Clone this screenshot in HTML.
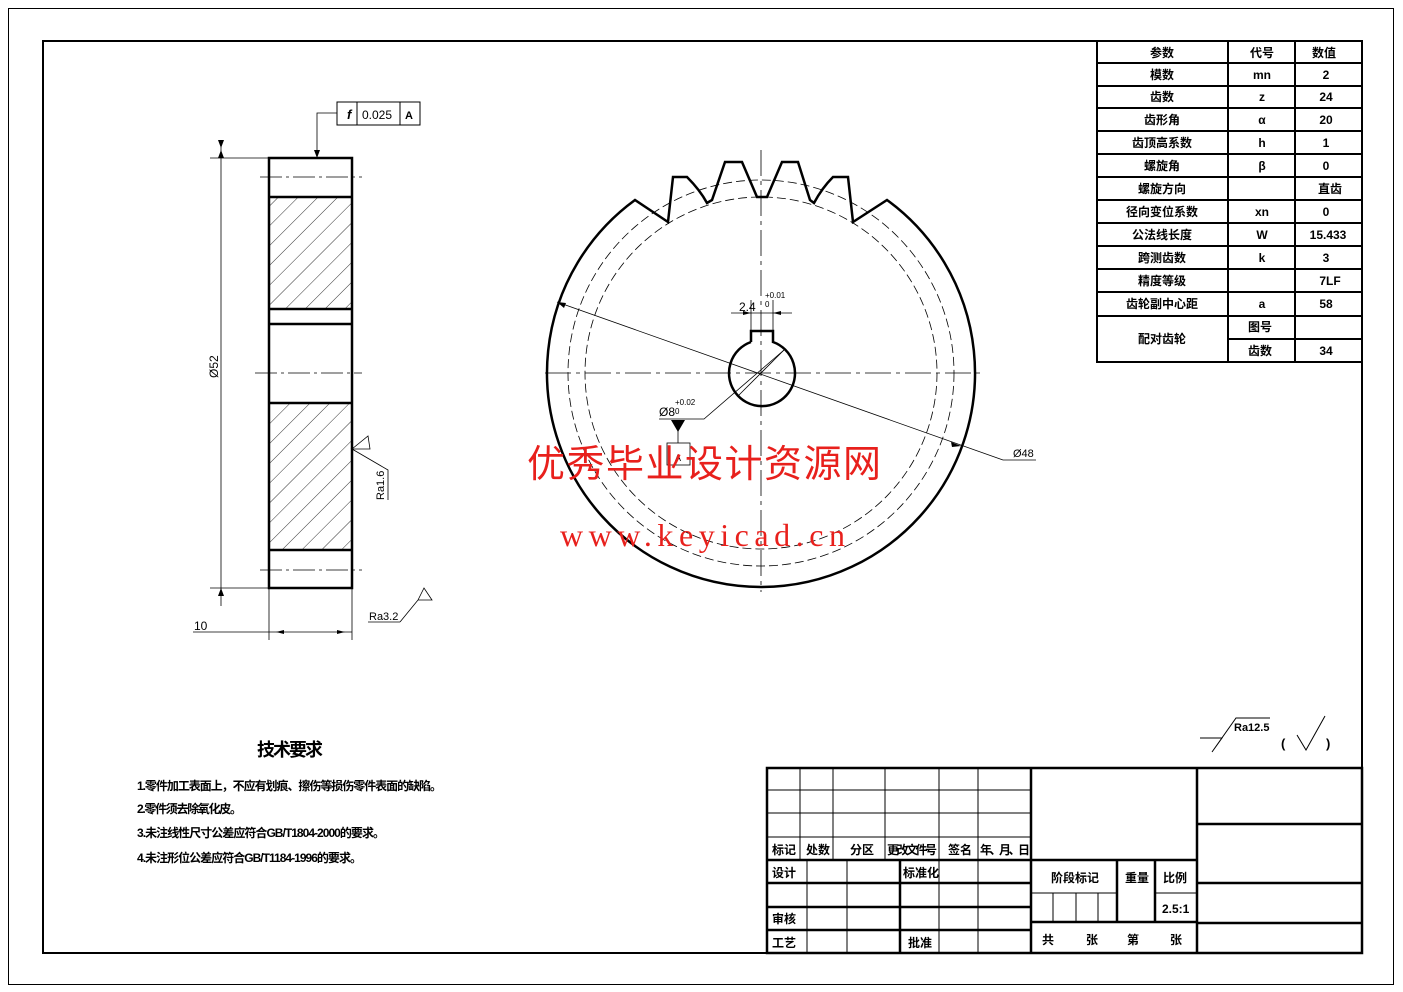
<!DOCTYPE html>
<html><head><meta charset="utf-8"><style>
html,body{margin:0;padding:0;background:#fff;}
svg{display:block;}
text{font-family:"Liberation Sans","Noto Sans CJK SC",sans-serif;fill:#000;}
.cn{font-family:"Liberation Sans","Noto Sans CJK SC",sans-serif;font-weight:bold;font-size:12px;}
</style></head><body>
<svg width="1403" height="992" viewBox="0 0 1403 992" xmlns="http://www.w3.org/2000/svg">
<defs>
<pattern id="h" patternUnits="userSpaceOnUse" width="14" height="14" patternTransform="rotate(45)">
<line x1="0" y1="0" x2="0" y2="14" stroke="#000" stroke-width="0.8"/>
</pattern>
</defs>
<rect x="0" y="0" width="1403" height="992" fill="#fff"/>
<rect x="8.5" y="8.5" width="1385" height="976" fill="none" stroke="#000" stroke-width="1"/>
<rect x="43" y="41" width="1319" height="912" fill="none" stroke="#000" stroke-width="2"/>

<!-- LEFT VIEW -->
<g stroke="#000" fill="none">
<rect x="269" y="197" width="83" height="112" fill="url(#h)" stroke="none"/>
<rect x="269" y="403" width="83" height="147" fill="url(#h)" stroke="none"/>
<rect x="269" y="158" width="83" height="430" stroke-width="2.5"/>
<line x1="269" y1="197" x2="352" y2="197" stroke-width="2.5"/>
<line x1="269" y1="309" x2="352" y2="309" stroke-width="2.5"/>
<line x1="269" y1="324" x2="352" y2="324" stroke-width="2.5"/>
<line x1="269" y1="403" x2="352" y2="403" stroke-width="2.5"/>
<line x1="269" y1="550" x2="352" y2="550" stroke-width="2.5"/>
<line x1="260" y1="177" x2="362" y2="177" stroke-width="0.8" stroke-dasharray="22,4,3,4"/>
<line x1="255" y1="373" x2="362" y2="373" stroke-width="0.8" stroke-dasharray="22,4,3,4"/>
<line x1="260" y1="570" x2="362" y2="570" stroke-width="0.8" stroke-dasharray="22,4,3,4"/>
<!-- dim 52 -->
<line x1="210" y1="158" x2="269" y2="158" stroke-width="0.8"/>
<line x1="210" y1="588" x2="269" y2="588" stroke-width="0.8"/>
<line x1="221" y1="140" x2="221" y2="606" stroke-width="0.8"/>
<!-- dim 10 -->
<line x1="269" y1="588" x2="269" y2="640" stroke-width="0.8"/>
<line x1="352" y1="588" x2="352" y2="640" stroke-width="0.8"/>
<line x1="193" y1="632" x2="352" y2="632" stroke-width="0.8"/>
<!-- FCF -->
<rect x="337" y="102" width="83" height="23" stroke-width="1"/>
<line x1="357" y1="102" x2="357" y2="125"/>
<line x1="400" y1="102" x2="400" y2="125"/>
<polyline points="337,113 317,113 317,155" stroke-width="0.8"/>
<!-- Ra1.6 -->
<polyline points="352,449 368,436 370,449 352,449 388,470 388,500" stroke-width="0.8"/>
<!-- Ra3.2 -->
<polyline points="400,622 418,600 432,600 424,588 418,600" stroke-width="0.8"/>
<line x1="368" y1="622" x2="400" y2="622" stroke-width="0.8"/>
</g>
<polygon points="221,148 218,140 224,140" fill="#000"/>
<polygon points="221,150 218,158 224,158" fill="#000"/>
<polygon points="221,588 218,596 224,596" fill="#000"/>
<polygon points="314,150 320,150 317,158" fill="#000"/>
<polygon points="276,632 284,630 284,634" fill="#000"/>
<polygon points="345,632 337,630 337,634" fill="#000"/>
<text x="347" y="119" font-size="13" font-style="italic" font-weight="bold">f</text>
<text x="362" y="119" font-size="12">0.025</text>
<text x="405" y="119" font-size="11" font-weight="bold">A</text>
<text transform="translate(218,378) rotate(-90)" font-size="12">Ø52</text>
<text x="194" y="630" font-size="12">10</text>
<text transform="translate(384,500) rotate(-90)" font-size="11">Ra1.6</text>
<text x="369" y="620" font-size="11">Ra3.2</text>

<!-- GEAR -->
<g stroke="#000" fill="none">
<path d="M887,200 A214,214 0 1 1 635,200 L668,222 L673,177 L687,177 Q700,190 707,203 L712,200 L725,162 L742,162 L757,197 L767,197 L782,162 L798,162 L810,200 L814,203 Q822,188 833,177 L848,177 L853,222 Z" stroke-width="2.5"/>
<circle cx="761" cy="373" r="193" stroke-width="0.8" stroke-dasharray="9,4"/>
<circle cx="761" cy="373" r="176" stroke-width="0.8" stroke-dasharray="9,4"/>
<line x1="545" y1="373" x2="985" y2="373" stroke-width="0.8" stroke-dasharray="26,5,4,5"/>
<line x1="761" y1="150" x2="761" y2="592" stroke-width="0.8" stroke-dasharray="26,5,4,5"/>
<path d="M751,342 L751,331 L773,331 L773,342 A33,33 0 1 1 751,342" stroke-width="2.5"/>
<line x1="557" y1="302" x2="1003" y2="460" stroke-width="0.8"/>
<line x1="1003" y1="460" x2="1036" y2="460" stroke-width="0.8"/>
<line x1="751" y1="300" x2="751" y2="331" stroke-width="0.8"/>
<line x1="773" y1="300" x2="773" y2="331" stroke-width="0.8"/>
<line x1="731" y1="313" x2="792" y2="313" stroke-width="0.8"/>
<polyline points="659,419 704,419 784,350" stroke-width="0.8"/>
<line x1="738" y1="396" x2="784" y2="350" stroke-width="0.8"/>
<line x1="678" y1="430" x2="678" y2="443" stroke-width="0.8"/>
<rect x="667" y="443" width="23" height="22" stroke-width="0.8"/>
</g>
<polygon points="557,302 566,303 564,308" fill="#000"/>
<polygon points="961,446 951,442 952,447" fill="#000"/>
<polygon points="671,420 685,420 678,432" fill="#000"/>
<polygon points="751,313 743,311 743,315" fill="#000"/>
<polygon points="773,313 781,311 781,315" fill="#000"/>
<text x="1013" y="457" font-size="11">Ø48</text>
<text x="739" y="311" font-size="12">2.4</text>
<text x="765" y="298" font-size="8">+0.01</text>
<text x="765" y="307" font-size="8">0</text>
<text x="659" y="416" font-size="12">Ø8</text>
<text x="675" y="405" font-size="8">+0.02</text>
<text x="675" y="414" font-size="8">0</text>
<text x="675" y="461" font-size="9">A</text>

<!-- watermark -->
<text x="527" y="477" font-size="38" fill="#e00" style="fill:#e8201c;font-family:'Noto Sans CJK SC',sans-serif" textLength="354">优秀毕业设计资源网</text>
<text x="560" y="546" font-size="32" style="fill:#e8201c;font-family:'Liberation Serif',serif" textLength="285">www.keyicad.cn</text>

<!-- PARAM TABLE -->
<g stroke="#000" stroke-width="2" fill="none">
<rect x="1097" y="41" width="265" height="321"/>
<line x1="1228" y1="41" x2="1228" y2="362"/>
<line x1="1295" y1="41" x2="1295" y2="362"/>
<line x1="1097" y1="63" x2="1362" y2="63"/>
<line x1="1097" y1="86" x2="1362" y2="86"/>
<line x1="1097" y1="108" x2="1362" y2="108"/>
<line x1="1097" y1="131" x2="1362" y2="131"/>
<line x1="1097" y1="154" x2="1362" y2="154"/>
<line x1="1097" y1="177" x2="1362" y2="177"/>
<line x1="1097" y1="200" x2="1362" y2="200"/>
<line x1="1097" y1="223" x2="1362" y2="223"/>
<line x1="1097" y1="246" x2="1362" y2="246"/>
<line x1="1097" y1="269" x2="1362" y2="269"/>
<line x1="1097" y1="292" x2="1362" y2="292"/>
<line x1="1097" y1="316" x2="1362" y2="316"/>
<line x1="1228" y1="339" x2="1362" y2="339"/>
</g>
<g class="cn" text-anchor="middle" font-size="11">
<text x="1162" y="57" class="cn">参数</text><text x="1262" y="57" class="cn">代号</text><text x="1324" y="57" class="cn">数值</text>
<text x="1162" y="79" class="cn">模数</text><text x="1262" y="79" class="cn">mn</text><text x="1326" y="79" class="cn">2</text>
<text x="1162" y="101" class="cn">齿数</text><text x="1262" y="101" class="cn">z</text><text x="1326" y="101" class="cn">24</text>
<text x="1162" y="124" class="cn">齿形角</text><text x="1262" y="124" class="cn">α</text><text x="1326" y="124" class="cn">20</text>
<text x="1162" y="147" class="cn">齿顶高系数</text><text x="1262" y="147" class="cn">h</text><text x="1326" y="147" class="cn">1</text>
<text x="1162" y="170" class="cn">螺旋角</text><text x="1262" y="170" class="cn">β</text><text x="1326" y="170" class="cn">0</text>
<text x="1162" y="193" class="cn">螺旋方向</text><text x="1330" y="193" class="cn">直齿</text>
<text x="1162" y="216" class="cn">径向变位系数</text><text x="1262" y="216" class="cn">xn</text><text x="1326" y="216" class="cn">0</text>
<text x="1162" y="239" class="cn">公法线长度</text><text x="1262" y="239" class="cn">W</text><text x="1328" y="239" class="cn">15.433</text>
<text x="1162" y="262" class="cn">跨测齿数</text><text x="1262" y="262" class="cn">k</text><text x="1326" y="262" class="cn">3</text>
<text x="1162" y="285" class="cn">精度等级</text><text x="1330" y="285" class="cn">7LF</text>
<text x="1162" y="308" class="cn">齿轮副中心距</text><text x="1262" y="308" class="cn">a</text><text x="1326" y="308" class="cn">58</text>
<text x="1162" y="343" class="cn">配对齿轮</text><text x="1260" y="331" class="cn">图号</text>
<text x="1260" y="355" class="cn">齿数</text><text x="1326" y="355" class="cn">34</text>
</g>

<!-- rough symbol -->
<g stroke="#000" fill="none" stroke-width="1">
<polyline points="1200,738 1222,738 1212,752 1236,718 1270,718"/>
<polyline points="1297,735 1306,750 1325,716"/>
</g>
<text x="1234" y="731" font-size="11" font-weight="bold">Ra12.5</text>
<text x="1281" y="748" font-size="13" font-weight="bold">(</text>
<text x="1326" y="748" font-size="13" font-weight="bold">)</text>

<!-- tech requirements -->
<text x="257" y="756" font-size="18" font-weight="bold" style="font-family:'Noto Sans CJK SC',sans-serif" textLength="66">技术要求</text>
<text x="137" y="790" class="cn" textLength="305">1.零件加工表面上，不应有划痕、擦伤等损伤零件表面的缺陷。</text>
<text x="137" y="813" class="cn" textLength="105">2.零件须去除氧化皮。</text>
<text x="137" y="837" class="cn" textLength="248">3.未注线性尺寸公差应符合GB/T1804-2000的要求。</text>
<text x="137" y="862" class="cn" textLength="225">4.未注形位公差应符合GB/T1184-1996的要求。</text>

<!-- TITLE BLOCK -->
<g stroke="#000" fill="none">
<rect x="767" y="768" width="595" height="185" stroke-width="2.5"/>
<line x1="1031" y1="768" x2="1031" y2="953" stroke-width="2.5"/>
<line x1="1197" y1="768" x2="1197" y2="953" stroke-width="2.5"/>
<g stroke-width="1">
<line x1="767" y1="790" x2="1031" y2="790"/>
<line x1="767" y1="813" x2="1031" y2="813"/>
<line x1="767" y1="837" x2="1031" y2="837"/>
<line x1="800" y1="768" x2="800" y2="860"/>
<line x1="833" y1="768" x2="833" y2="860"/>
<line x1="885" y1="768" x2="885" y2="860"/>
<line x1="939" y1="768" x2="939" y2="860"/>
<line x1="978" y1="768" x2="978" y2="860"/>
<line x1="807" y1="860" x2="807" y2="953"/>
<line x1="847" y1="860" x2="847" y2="953"/>
<line x1="939" y1="860" x2="939" y2="953"/>
<line x1="978" y1="860" x2="978" y2="953"/>
<line x1="1031" y1="893" x2="1117" y2="893"/>
<line x1="1155" y1="893" x2="1197" y2="893"/>
<line x1="1053" y1="893" x2="1053" y2="922"/>
<line x1="1076" y1="893" x2="1076" y2="922"/>
<line x1="1098" y1="893" x2="1098" y2="922"/>
</g>
<g stroke-width="2.5">
<line x1="767" y1="860" x2="1197" y2="860"/>
<line x1="767" y1="883" x2="1031" y2="883"/>
<line x1="767" y1="907" x2="1031" y2="907"/>
<line x1="767" y1="930" x2="1031" y2="930"/>
<line x1="900" y1="860" x2="900" y2="953"/>
<line x1="1031" y1="922" x2="1197" y2="922"/>
<line x1="1117" y1="860" x2="1117" y2="922"/>
<line x1="1155" y1="860" x2="1155" y2="922"/>
<line x1="1197" y1="824" x2="1362" y2="824"/>
<line x1="1197" y1="883" x2="1362" y2="883"/>
<line x1="1197" y1="923" x2="1362" y2="923"/>
</g>
</g>
<g class="cn">
<text x="772" y="854" class="cn">标记</text>
<text x="806" y="854" class="cn">处数</text>
<text x="850" y="854" class="cn">分区</text>
<text x="887" y="854" class="cn" textLength="50">更改文件号</text>
<text x="948" y="854" class="cn">签名</text>
<text x="980" y="854" class="cn" textLength="50">年、月、日</text>
<text x="772" y="877" class="cn">设计</text>
<text x="903" y="877" class="cn">标准化</text>
<text x="772" y="923" class="cn">审核</text>
<text x="772" y="947" class="cn">工艺</text>
<text x="908" y="947" class="cn">批准</text>
<text x="1051" y="882" class="cn">阶段标记</text>
<text x="1125" y="882" class="cn">重量</text>
<text x="1163" y="882" class="cn">比例</text>
<text x="1162" y="913" class="cn">2.5:1</text>
<text x="1042" y="944" class="cn">共</text>
<text x="1086" y="944" class="cn">张</text>
<text x="1127" y="944" class="cn">第</text>
<text x="1170" y="944" class="cn">张</text>
</g>
</svg>
</body></html>
